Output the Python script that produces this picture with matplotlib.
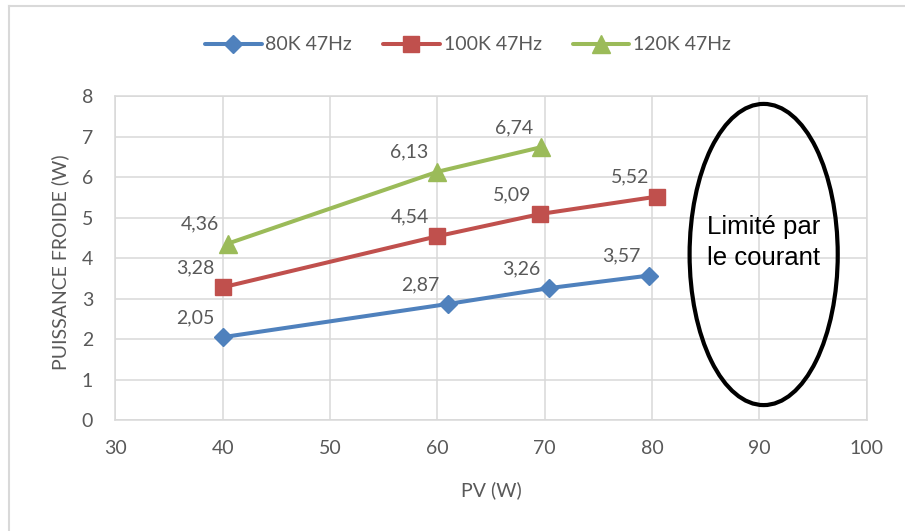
"""
puissance froide vs PV - three cryocooler settings
"""

import matplotlib
matplotlib.use("Agg")
import matplotlib.pyplot as plt
from matplotlib.patches import Ellipse
from matplotlib.lines import Line2D

plt.rcParams['font.family'] = ['Lato', 'DejaVu Sans']

# data
pv_80 = [40, 61, 70.4, 79.7]
p_80 = [2.05, 2.87, 3.26, 3.57]
pv_100 = [40, 60, 69.6, 80.5]
p_100 = [3.28, 4.54, 5.09, 5.52]
pv_120 = [40.5, 60, 69.7]
p_120 = [4.36, 6.13, 6.74]

series_names = ["80K 47Hz", "100K 47Hz", "120K 47Hz"]
x_ticks = [30, 40, 50, 60, 70, 80, 90, 100]
y_ticks = [0, 1, 2, 3, 4, 5, 6, 7, 8]

GRID = "#D9D9D9"
TXT = "#595959"

fig = plt.figure(figsize=(9.05, 5.31), dpi=100)
ax = fig.add_axes([0.1274, 0.2085, 0.8303, 0.6107])

styles = [("#4F81BD", "D", 9), ("#C0504D", "s", 12), ("#9BBB59", "^", 12.5)]
data = [(pv_80, p_80), (pv_100, p_100), (pv_120, p_120)]

for (xs, ys), name, (col, mk, ms) in zip(data, series_names, styles):
    ax.plot(xs, ys, color=col, lw=2.9, marker=mk, ms=ms, label=name,
            solid_capstyle='round', zorder=3)
    for x, y in zip(xs, ys):
        ax.annotate(f"{y:.2f}".replace('.', ','), (x, y),
                    xytext=(-20, 14), textcoords='offset points',
                    ha='center', va='center', fontsize=14, color=TXT)

ax.set_xlim(30, 100)
ax.set_ylim(0, 8)
ax.set_xticks(x_ticks)
ax.set_yticks(y_ticks)
ax.grid(True, color=GRID, lw=1.1)
ax.set_axisbelow(True)
for s in ax.spines.values():
    s.set_color(GRID)
    s.set_linewidth(1.1)
ax.tick_params(length=0, labelsize=14, labelcolor=TXT)
ax.tick_params(axis='y', pad=16)
ax.tick_params(axis='x', pad=14)

fig.text(60 / 905, 1 - 262 / 531, "PUISSANCE FROIDE (W)", rotation=90,
         ha='center', va='center', fontsize=14, color=TXT)
fig.text(491 / 905, 1 - 490 / 531, "PV (W)", ha='center', va='center',
         fontsize=14, color=TXT)

# ellipse annotation
ell = Ellipse((90.4, 4.09), 13.8, 7.43, fill=False, ec='black', lw=3,
              clip_on=False, zorder=4)
ax.add_patch(ell)
ax.text(90.4, 4.38, "Limité par\nle courant", ha='center', va='center',
        fontsize=18.5, family='Liberation Sans', linespacing=1.35,
        zorder=5)

leg = fig.legend(loc='center', bbox_to_anchor=(468 / 905, 1 - 45 / 531),
                 ncol=3, frameon=False, fontsize=14, handlelength=2.9,
                 handletextpad=0.2, columnspacing=1.6)
for t in leg.get_texts():
    t.set_color(TXT)

# outer chart border (cropped on right/bottom)
fig.add_artist(Line2D([9 / 905, 9 / 905], [0, 1 - 6 / 531], color=GRID,
                      lw=1.5, transform=fig.transFigure))
fig.add_artist(Line2D([9 / 905, 1], [1 - 6 / 531, 1 - 6 / 531], color=GRID,
                      lw=1.5, transform=fig.transFigure))

fig.savefig("out.png", dpi=100)
